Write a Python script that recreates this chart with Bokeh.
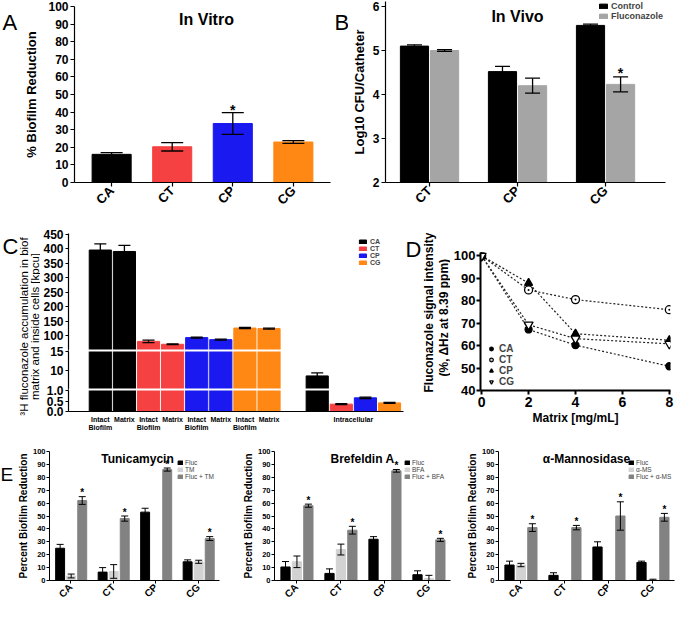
import math
from bokeh.plotting import figure
from bokeh.models import (ColumnDataSource, Whisker, TeeHead, FixedTicker, Label,
                          Legend, LegendItem, Range1d, BoxAnnotation)
from bokeh.layouts import row, column
from bokeh.embed import file_html
from bokeh.resources import INLINE
from bokeh.core.properties import value

FONT = "Liberation Sans"

# ---------------- Panel A: in vitro ----------------
a_strains = ["CA", "CT", "CP", "CG"]
a_reduction = [16.0, 20.3, 33.5, 23.0]
a_error = [1.0, 2.4, 6.2, 0.8]
a_colors = ["#000000", "#F54141", "#1919F0", "#FF8714"]
a_significant = [False, False, True, False]

# ---------------- Panel B: in vivo ----------------
b_strains = ["CT", "CP", "CG"]
b_groups = ["Control", "Fluconazole"]
b_control = [5.10, 4.52, 5.57]
b_control_err = [0.03, 0.12, 0.03]
b_fluconazole = [5.00, 4.20, 4.23]
b_fluconazole_err = [0.02, 0.17, 0.17]
b_significant = [False, False, True]
b_colors = ["#000000", "#A5A5A5"]

# ---------------- Panel C: 3H fluconazole ----------------
c_strains = ["CA", "CT", "CP", "CG"]
c_intact = [395, 80, 93, 126]
c_intact_err = [21, 4, 2, 2]
c_matrix = [390, 70, 86, 124]
c_matrix_err = [21, 1.5, 2, 2]
c_intracellular = [8.4, 0.35, 0.65, 0.41]
c_intracellular_err = [0.8, 0.02, 0.03, 0.02]
c_y_ticks = [0, 0.5, 1.0, 10, 15, 100, 150, 200, 250, 300, 350, 400, 450]
c_y_tick_labels = ["0.0", "0.5", "1.0", "10", "15", "100", "150", "200", "250",
                   "300", "350", "400", "450"]
c_x_labels = ["Intact\nBiofilm", "Matrix"] * 4 + ["Intracellular"]
c_y_title = ["\u00b3H fluconazole accumulation in biof", "matrix and inside cells [kpcu]"]

# ---------------- Panel D: NMR ----------------
d_matrix = [0, 2, 4, 8]
d_ca = [100, 67.2, 60.2, 50.8]
d_ct = [100, 84.8, 80.5, 76.0]
d_cp = [100, 87.9, 65.3, 62.4]
d_cg = [100, 69.3, 63.1, 60.8]
d_y_title = ["Fluconazole signal intensity", "(%, \u0394Hz at 8.39 ppm)"]

# ---------------- Panel E ----------------
e_strains = ["CA", "CT", "CP", "CG"]
e_colors = ["#000000", "#D2D2D2", "#828282"]
e_tm_fluc = [25, 6.5, 53, 14.5]
e_tm_fluc_err = [3, 3.5, 3, 1.5]
e_tm_drug = [3.5, 7, 0, 14.5]
e_tm_drug_err = [1.5, 5.3, 0, 1.2]
e_tm_combo = [62, 48, 86, 32.5]
e_tm_combo_err = [3, 2, 1.2, 1.5]

e_bfa_fluc = [10.5, 5.5, 32, 4.5]
e_bfa_fluc_err = [4.2, 3.5, 2, 3]
e_bfa_drug = [14.5, 24, 0, 1.5]
e_bfa_drug_err = [4.5, 4.2, 0, 2.5]
e_bfa_combo = [58, 39, 85, 31.5]
e_bfa_combo_err = [1.2, 3, 1, 1.2]

e_ms_fluc = [12, 4, 26, 14]
e_ms_fluc_err = [3, 2, 4, 1]
e_ms_drug = [12, 0, 0, 0.5]
e_ms_drug_err = [1.3, 0, 0, 0.5]
e_ms_combo = [41, 41, 50, 49]
e_ms_combo_err = [3, 1.7, 11, 3]


# ---------------- helpers ----------------
def no_align(p):
    try:
        p.frame_align = False
    except Exception:
        pass
    return p


def make_fig(w, h, left, right, top, bottom, xr, yr):
    p = figure(width=w, height=h, x_range=xr, y_range=yr, output_backend="svg",
               toolbar_location=None, title=None,
               min_border_left=left, min_border_right=right,
               min_border_top=top, min_border_bottom=bottom)
    p.outline_line_color = None
    p.xgrid.visible = False
    p.ygrid.visible = False
    return no_align(p)


def text_fig(w, h):
    p = figure(width=w, height=h, x_range=Range1d(0, w), y_range=Range1d(0, h),
               output_backend="svg", toolbar_location=None, title=None,
               x_axis_location=None, y_axis_location=None,
               min_border_left=0, min_border_right=0, min_border_top=0, min_border_bottom=0)
    p.outline_line_color = None
    p.xgrid.visible = False
    p.ygrid.visible = False
    return no_align(p)


def style_axes(p, tick_size, label_size, tick_out=4, lw=1.2):
    for ax in p.axis:
        ax.major_label_text_font = FONT
        ax.major_label_text_font_size = tick_size
        ax.major_label_text_font_style = "bold"
        ax.major_label_text_color = "black"
        ax.axis_line_color = "black"
        ax.axis_line_width = lw
        ax.major_tick_line_color = "black"
        ax.major_tick_line_width = lw
        ax.major_tick_in = 0
        ax.major_tick_out = tick_out
        ax.minor_tick_line_color = None
        ax.major_label_standoff = 2
        ax.axis_label_text_font = FONT
        ax.axis_label_text_font_size = label_size
        ax.axis_label_text_font_style = "bold"
        ax.axis_label_text_color = "black"


def add_text(p, x, y, text, size, bold=True, align="left", baseline="alphabetic", angle=0.0):
    p.add_layout(Label(x=x, y=y, x_units="screen", y_units="screen", text=text,
                       text_font=FONT, text_font_size=size,
                       text_font_style="bold" if bold else "normal",
                       text_align=align, text_baseline=baseline, angle=angle,
                       text_color="black"))


def add_err(p, xs, vals, errs, head, lw=1.2, mapper=None):
    keep = [(x, v, e) for x, v, e in zip(xs, vals, errs) if e > 0]
    f = mapper if mapper else (lambda t: t)
    src = ColumnDataSource(dict(base=[k[0] for k in keep],
                                upper=[f(k[1] + k[2]) for k in keep],
                                lower=[f(max(k[1] - k[2], 0)) for k in keep]))
    w = Whisker(source=src, base="base", upper="upper", lower="lower", dimension="height",
                line_color="black", line_width=lw, level="overlay",
                upper_head=TeeHead(size=head, line_color="black", line_width=lw),
                lower_head=TeeHead(size=head, line_color="black", line_width=lw))
    p.add_layout(w)


def add_stars(p, xs, ys, size):
    if xs:
        p.text(x=xs, y=ys, text=["*"] * len(xs), text_font=value(FONT),
               text_font_size=size, text_font_style="bold", text_align="center",
               text_baseline="middle", text_color="black")


def small_legend(items, loc, font, gw, gh, lh, bold=True):
    lg = Legend(items=items, location=loc, orientation="vertical")
    lg.label_text_font = FONT
    lg.label_text_font_size = font
    lg.label_text_font_style = "bold" if bold else "normal"
    lg.glyph_width = gw
    lg.glyph_height = gh
    lg.label_height = lh
    lg.label_standoff = 3
    lg.spacing = 0
    lg.padding = 0
    lg.margin = 0
    lg.border_line_color = None
    lg.background_fill_alpha = 0
    return lg


# ================= Row 1 =================
R1 = 220
tA = text_fig(18, R1)
add_text(tA, 2, R1 - 21.5, "A", "22px", bold=False)

A_W = 314
A_L, A_R, A_T, A_B = 56, 2, 6, 38
A_FH = R1 - A_T - A_B
A_FW = A_W - A_L - A_R
pA = make_fig(A_W, R1, A_L, A_R, A_T, A_B, Range1d(0.387, 4.613), Range1d(0, 100))
a_x = list(range(1, len(a_strains) + 1))
pA.vbar(x="x", top="top", width=0.645, fill_color="color", line_color="color",
        source=ColumnDataSource(dict(x=a_x, top=a_reduction, color=a_colors)))
add_err(pA, a_x, a_reduction, a_error, 22, 1.3)
add_stars(pA, [x for x, s in zip(a_x, a_significant) if s],
          [v + e + 1.5 for v, e, s in zip(a_reduction, a_error, a_significant) if s], "14px")
style_axes(pA, "12px", "13px")
pA.yaxis.ticker = FixedTicker(ticks=list(range(0, 101, 10)))
pA.xaxis.ticker = FixedTicker(ticks=a_x)
pA.xaxis.major_label_overrides = {x: s for x, s in zip(a_x, a_strains)}
pA.xaxis.major_label_orientation = math.pi / 4
pA.xaxis.major_label_text_font_size = "13px"
pA.yaxis.axis_label = "% Biofilm Reduction"
pA.yaxis.axis_label_standoff = 6
add_text(pA, A_FW / 2 + 4, A_FH - 13, "In Vitro", "16px", align="center")

tB = text_fig(16, R1)
add_text(tB, 2, R1 - 21.5, "B", "22px", bold=False)

B_W = 332
B_L, B_R, B_T, B_B = 36, 15, 1, 38
B_FH = R1 - B_T - B_B
B_FW = B_W - B_L - B_R
b_px_per_unit_y = (B_FH - 5) / 4.0
b_px_per_unit_x = 265 / 3.0
pB = make_fig(B_W, R1, B_L, B_R, B_T, B_B,
              Range1d(0.5, 0.5 + B_FW / b_px_per_unit_x),
              Range1d(2, 6 + 5 / b_px_per_unit_y))
b_x = list(range(1, len(b_strains) + 1))
b_items = []
for vals, errs, col, lab, off in [(b_control, b_control_err, b_colors[0], b_groups[0], -0.171),
                                  (b_fluconazole, b_fluconazole_err, b_colors[1], b_groups[1], 0.171)]:
    xs = [x + off for x in b_x]
    r = pB.vbar(x=xs, top=vals, bottom=2, width=0.32, fill_color=col, line_color=col)
    add_err(pB, xs, vals, errs, 15, 1.3)
    b_items.append(LegendItem(label=lab, renderers=[r]))
add_stars(pB, [x + 0.171 for x, s in zip(b_x, b_significant) if s],
          [v + e + 0.1 for v, e, s in zip(b_fluconazole, b_fluconazole_err, b_significant) if s], "14px")
style_axes(pB, "12px", "13px")
pB.yaxis.ticker = FixedTicker(ticks=[2, 3, 4, 5, 6])
pB.xaxis.ticker = FixedTicker(ticks=b_x)
pB.xaxis.major_label_overrides = {x: s for x, s in zip(b_x, b_strains)}
pB.xaxis.major_label_orientation = math.pi / 4
pB.xaxis.major_label_text_font_size = "13px"
pB.yaxis.axis_label = "Log10 CFU/Catheter"
pB.yaxis.axis_label_standoff = 3
pB.add_layout(small_legend(b_items, (B_FW - 68, B_FH - 20), "9px", 10, 6, 7))
add_text(pB, 132, B_FH - 15, "In Vivo", "16px", align="center")

# ================= Row 2 =================
R2 = 226
tC = text_fig(40, R2)
add_text(tC, 2, R2 - 26, "C", "22px", bold=False)
add_text(tC, 23, 120, c_y_title[0], "11.5px", bold=False, align="center",
         baseline="middle", angle=math.pi / 2)
add_text(tC, 34, 120, c_y_title[1], "11.5px", bold=False, align="center",
         baseline="middle", angle=math.pi / 2)

C_W = 365
C_L, C_R, C_T, C_B = 26, 2, 13, 35
C_FH = R2 - C_T - C_B
C_FW = C_W - C_L - C_R
# (data low, data high, frame px low, frame px high) for each axis segment
C_SEGMENTS = [(0.0, 1.0, 0.0, 21.0), (5.0, 15.0, 23.0, 60.0), (52.0, 452.0, 62.0, float(C_FH))]


def c_map(v):
    for lo, hi, d0, d1 in C_SEGMENTS:
        if v <= hi:
            return round(d0 + (max(v, lo) - lo) / (hi - lo) * (d1 - d0), 4)
    lo, hi, d0, d1 = C_SEGMENTS[-1]
    return round(d0 + (v - lo) / (hi - lo) * (d1 - d0), 4)


pC = make_fig(C_W, R2, C_L, C_R, C_T, C_B, Range1d(-1.32, 12.58), Range1d(0, C_FH))
c_items = []
for i, s in enumerate(c_strains):
    xs = [2 * i, 2 * i + 1, 9 + i]
    vals = [c_intact[i], c_matrix[i], c_intracellular[i]]
    errs = [c_intact_err[i], c_matrix_err[i], c_intracellular_err[i]]
    r = pC.vbar(x=xs, top=[c_map(v) for v in vals], width=0.92,
                fill_color=a_colors[i], line_color=a_colors[i])
    add_err(pC, xs, vals, errs, 12, 1.3, mapper=c_map)
    c_items.append(LegendItem(label=s, renderers=[r]))
for k in range(len(C_SEGMENTS) - 1):
    pC.add_layout(BoxAnnotation(bottom=C_SEGMENTS[k][3], top=C_SEGMENTS[k + 1][2],
                                fill_color="white", fill_alpha=1.0, line_color=None))
style_axes(pC, "12px", "11px", tick_out=3)
pC.yaxis.ticker = FixedTicker(ticks=[c_map(v) for v in c_y_ticks])
pC.yaxis.major_label_overrides = {c_map(v): lab for v, lab in zip(c_y_ticks, c_y_tick_labels)}
c_xticks = [0, 1, 2, 3, 4, 5, 6, 7, 10.5]
pC.xaxis.ticker = FixedTicker(ticks=c_xticks)
pC.xaxis.major_label_overrides = {x: l for x, l in zip(c_xticks, c_x_labels)}
pC.xaxis.major_label_text_font_size = "7px"
pC.xaxis.major_tick_out = 0
pC.xaxis.major_label_standoff = 4
pC.add_layout(small_legend(c_items, (290, C_FH - 33), "7px", 9, 5, 6))

tD = text_fig(45, R2)
add_text(tD, 0, R2 - 29, "D", "22px", bold=False)
add_text(tD, 23, 134, d_y_title[0], "12px", bold=True, align="center",
         baseline="middle", angle=math.pi / 2)
add_text(tD, 38, 129, d_y_title[1], "12px", bold=True, align="center",
         baseline="middle", angle=math.pi / 2)

D_W = 228
D_L, D_R, D_T, D_B = 27, 8, 32, 56
D_FH = R2 - D_T - D_B
pD = make_fig(D_W, R2, D_L, D_R, D_T, D_B, Range1d(-0.05, 8.05), Range1d(40, 101.5))
d_items = []
for ys, marker, fill, lab, sz in [(d_ca, "circle", "black", "CA", 7),
                                  (d_ct, "circle_dot", "white", "CT", 8),
                                  (d_cp, "triangle", "black", "CP", 8),
                                  (d_cg, "inverted_triangle", "white", "CG", 9)]:
    pD.line(d_matrix, ys, line_color="#222222", line_width=1.2, line_dash="2 2")
    r = pD.scatter(d_matrix, ys, marker=marker, size=sz, fill_color=fill,
                   line_color="black", line_width=1.3)
    d_items.append(LegendItem(label=lab, renderers=[r]))
style_axes(pD, "13px", "12px", tick_out=4, lw=2)
pD.yaxis.major_label_standoff = 1
pD.yaxis.ticker = FixedTicker(ticks=list(range(40, 101, 10)))
pD.xaxis.ticker = FixedTicker(ticks=[0, 2, 4, 6, 8])
pD.xaxis.major_label_text_font_size = "14px"
pD.xaxis.axis_label = "Matrix [mg/mL]"
pD.xaxis.axis_label_standoff = 1
pD.add_layout(small_legend(d_items, (6, 3), "10px", 10, 9, 9))


# ================= Row 3 =================
R3 = 160


def e_panel(width, left, right, title, drug, fluc, fluc_err, drg, drg_err, combo, combo_err,
            legend_x=128):
    top, bottom = 5, 24
    fh = R3 - top - bottom
    fw = width - left - right
    p = make_fig(width, R3, left, right, top, bottom, Range1d(0.5, 4.5), Range1d(0, 100))
    xs0 = list(range(1, len(e_strains) + 1))
    items = []
    series = [(fluc, fluc_err, e_colors[0], "Fluc", -0.25),
              (drg, drg_err, e_colors[1], drug, 0.01),
              (combo, combo_err, e_colors[2], "Fluc + " + drug, 0.27)]
    for vals, errs, col, lab, off in series:
        xs = [x + off for x in xs0]
        r = p.vbar(x=xs, top=vals, width=0.21, fill_color=col, line_color=col)
        add_err(p, xs, vals, errs, 7, 1.0)
        items.append(LegendItem(label=lab, renderers=[r]))
    add_stars(p, [x + 0.27 for x in xs0], [v + e + 3 for v, e in zip(combo, combo_err)], "10px")
    style_axes(p, "7.5px", "10px", tick_out=3, lw=1)
    p.yaxis.major_label_standoff = 1
    p.yaxis.ticker = FixedTicker(ticks=list(range(0, 101, 10)))
    p.xaxis.ticker = FixedTicker(ticks=xs0)
    p.xaxis.major_label_overrides = {x: s for x, s in zip(xs0, e_strains)}
    p.xaxis.major_label_orientation = math.pi / 4
    p.xaxis.major_label_text_font_size = "10px"
    p.yaxis.axis_label = "Percent Biofilm Reduction"
    p.yaxis.axis_label_standoff = 1
    lg = small_legend(items, (legend_x, fh - 31), "6.5px", 6, 5, 6, bold=False)
    lg.label_standoff = 2
    p.add_layout(lg)
    add_text(p, 88, fh - 9.5, title, "12px", align="center")
    return p


tE = text_fig(14, R3)
add_text(tE, 0, R3 - 28, "E", "19px", bold=False)
pE1 = e_panel(217, 27, 12, "Tunicamycin", "TM", e_tm_fluc, e_tm_fluc_err,
              e_tm_drug, e_tm_drug_err, e_tm_combo, e_tm_combo_err, legend_x=128)
pE2 = e_panel(227, 43, 8, "Brefeldin A", "BFA", e_bfa_fluc, e_bfa_fluc_err,
              e_bfa_drug, e_bfa_drug_err, e_bfa_combo, e_bfa_combo_err, legend_x=130)
pE3 = e_panel(222, 40, 6, "\u03b1-Mannosidase", "\u03b1-MS", e_ms_fluc, e_ms_fluc_err,
              e_ms_drug, e_ms_drug_err, e_ms_combo, e_ms_combo_err, legend_x=130)

layout = column(row(tA, pA, tB, pB), row(tC, pC, tD, pD), row(tE, pE1, pE2, pE3))

open("out.html", "w").write(file_html(layout, INLINE))
